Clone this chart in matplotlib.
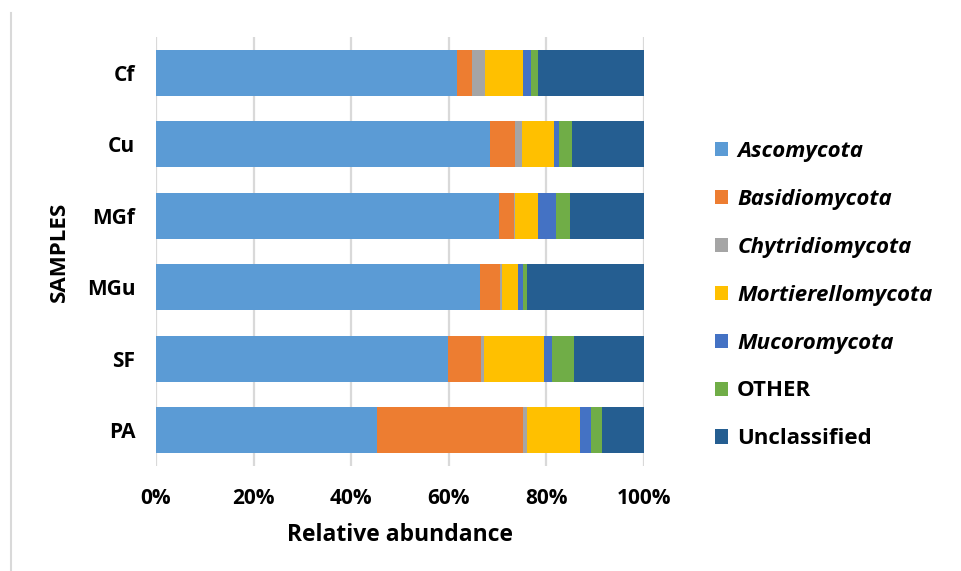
import matplotlib
matplotlib.use("Agg")
import matplotlib.pyplot as plt
from matplotlib.lines import Line2D
from matplotlib.patches import Patch
import numpy as np

plt.rcParams['font.family'] = ['Open Sans', 'DejaVu Sans']

samples = ["Cf", "Cu", "MGf", "MGu", "SF", "PA"]
groups = ["Ascomycota", "Basidiomycota", "Chytridiomycota", "Mortierellomycota",
          "Mucoromycota", "OTHER", "Unclassified"]
italic_groups = {"Ascomycota", "Basidiomycota", "Chytridiomycota",
                 "Mortierellomycota", "Mucoromycota"}

# relative abundance (%) per sample, one list per group
ascomycota = [61.6, 68.4, 70.3, 66.3, 59.8, 45.3]
basidiomycota = [3.2, 5.2, 3.1, 4.1, 6.8, 30.0]
chytridiomycota = [2.6, 1.3, 0.2, 0.6, 0.7, 0.7]
mortierellomycota = [7.9, 6.6, 4.7, 3.2, 12.3, 10.8]
mucoromycota = [1.5, 1.1, 3.7, 1.0, 1.6, 2.3]
other = [1.5, 2.6, 2.9, 0.8, 4.5, 2.2]
unclassified = [21.7, 14.8, 15.1, 24.0, 14.3, 8.7]

series = [ascomycota, basidiomycota, chytridiomycota, mortierellomycota,
          mucoromycota, other, unclassified]
colors = ["#5B9BD5", "#ED7D31", "#A5A5A5", "#FFC000", "#4472C4", "#70AD47", "#255E91"]

fig = plt.figure(figsize=(9.62, 5.71), dpi=100)
ax = fig.add_axes([156 / 962, 1 - 466 / 571, (644 - 156) / 962, (466 - 37) / 571])

y = np.arange(len(samples))[::-1]
left = np.zeros(len(samples))
for vals, col, name in zip(series, colors, groups):
    v = np.array(vals)
    ax.barh(y, v, left=left, height=0.645, color=col, label=name, zorder=3)
    left += v

ax.set_xlim(0, 100)
ax.set_ylim(-0.5, len(samples) - 0.5)
ax.set_xticks(np.arange(0, 101, 20))
ax.set_xticklabels([f"{t}%" for t in range(0, 101, 20)])
ax.set_yticks(y)
ax.set_yticklabels(samples)
ax.grid(axis="x", color="#D9D9D9", linewidth=1.6, zorder=0)
for s in ax.spines.values():
    s.set_visible(False)
ax.tick_params(axis="both", length=0, labelsize=15, colors="#000000")
ax.tick_params(axis="x", pad=16)
ax.tick_params(axis="y", pad=15)
for lab in ax.get_xticklabels() + ax.get_yticklabels():
    lab.set_fontweight("bold")

ax.set_xlabel("Relative abundance", fontsize=16.5, fontweight="bold", labelpad=10)
ax.set_ylabel("SAMPLES", fontsize=16, fontweight="bold", labelpad=12)

handles = [Patch(facecolor=c, edgecolor="none") for c in colors]
leg = fig.legend(handles, groups, loc="upper left",
                 bbox_to_anchor=(715 / 962, 1 - 141 / 571),
                 frameon=False, fontsize=16, handlelength=0.6, handleheight=0.6,
                 handletextpad=0.4, labelspacing=1.21, borderaxespad=0, borderpad=0)
for txt in leg.get_texts():
    txt.set_fontweight("bold")
    if txt.get_text() in italic_groups:
        txt.set_fontstyle("italic")

# thin frame line along the left edge
fig.add_artist(Line2D([11 / 962, 11 / 962], [0, 1 - 13 / 571],
                      transform=fig.transFigure, color="#D9D9D9", linewidth=1.5))

fig.savefig("out.png", dpi=100, facecolor="white")
